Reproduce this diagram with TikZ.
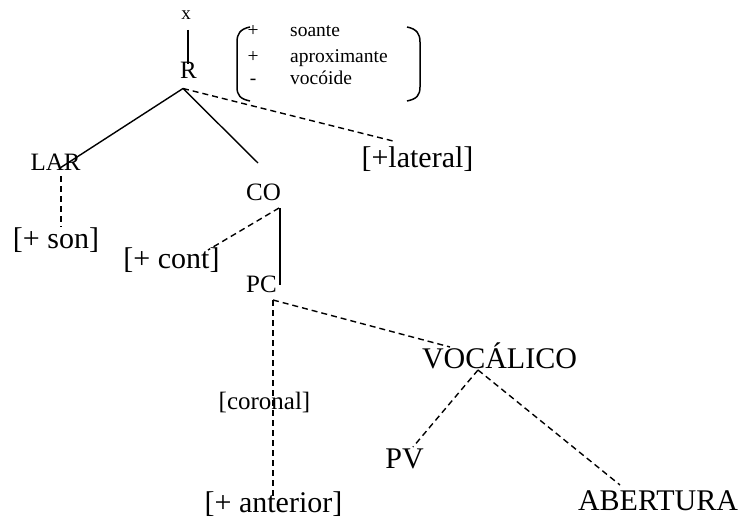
\documentclass[tikz,border=0pt]{standalone}
\usepackage{fontspec}
\setmainfont{Liberation Serif}
\begin{document}
\begin{tikzpicture}[x=1pt,y=-1pt,
  lbl/.style={inner sep=0pt,anchor=base},
  big/.style={lbl,font=\fontsize{30}{32}\selectfont},
  mid/.style={lbl,font=\fontsize{25}{27}\selectfont},
  sml/.style={lbl,font=\fontsize{19}{21}\selectfont},
  feat/.style={inner sep=0pt,font=\fontsize{19.5}{21}\selectfont},
  solidline/.style={line width=1.4pt},
  dashline/.style={line width=1.4pt,dash pattern=on 6pt off 4pt},
  paren/.style={line width=1.5pt}]
\useasboundingbox (0,0) rectangle (741,527);
% nodes
\node[sml] (x) at (186,20) {x};
\node[mid] (R) at (188.5,78.5) {R};
\node[mid] (LAR) at (55.5,170) {LAR};
\node[big] (lat) at (417.5,167) {[+lateral]};
\node[mid] (CO) at (263.5,200) {CO};
\node[big] (son) at (56,248) {[+ son]};
\node[big] (cont) at (171.5,268) {[+ cont]};
\node[mid] (PC) at (261.5,292) {PC};
\node[big] (VOC) at (499.5,368) {VOCÁLICO};
\node[mid] (cor) at (264.5,409) {[coronal]};
\node[big] (PV) at (404.5,468) {PV};
\node[big] (AB) at (658,510) {ABERTURA};
\node[big] (ant) at (273.5,512) {[+ anterior]};
% feature matrix
\node[feat,anchor=base] (s1) at (253,37) {+};
\node[feat,anchor=base] (s2) at (253,62.5) {+};
\node[feat,anchor=base] (s3) at (253,84.5) {-};
\node[feat,anchor=base west] (f1) at (290,37) {soante};
\node[feat,anchor=base west] (f2) at (290,62.5) {aproximante};
\node[feat,anchor=base west] (f3) at (290,84.5) {vocóide};
\draw[paren] (250,27) .. controls (240,29) and (237,34) .. (237,42) -- (237,87) .. controls (237,95) and (240,99) .. (250,101);
\draw[paren] (407,27) .. controls (417,29) and (420,34) .. (420,42) -- (420,87) .. controls (420,95) and (417,99) .. (407,101);
% connectors
\draw[solidline] ([shift={(2,10)}]x.base) -- ([shift={(-0.5,-14)}]R.base);
\draw[solidline] ([shift={(-5.5,10)}]R.base) -- ([shift={(4.5,-2)}]LAR.base);
\draw[solidline] ([shift={(-5.5,10)}]R.base) -- ([shift={(-5.5,-37)}]CO.base);
\draw[dashline] ([shift={(-5.5,10)}]R.base) -- ([shift={(-24.5,-26)}]lat.base);
\draw[dashline] ([shift={(5.5,6)}]LAR.base) -- ([shift={(5,-21)}]son.base);
\draw[dashline] ([shift={(15.5,8)}]CO.base) -- ([shift={(36.5,-18)}]cont.base);
\draw[solidline] ([shift={(16.5,8)}]CO.base) -- ([shift={(18.5,-7)}]PC.base);
\draw[dashline] ([shift={(11.5,8)}]PC.base) -- ([shift={(-49.5,-21)}]VOC.base);
\draw[dashline] ([shift={(11.5,8)}]PC.base) -- ([shift={(-0.5,-14)}]ant.base);
\draw[dashline] ([shift={(-21.5,2)}]VOC.base) -- ([shift={(8.5,-21)}]PV.base);
\draw[dashline] ([shift={(-21.5,2)}]VOC.base) -- ([shift={(-38,-25)}]AB.base);
\end{tikzpicture}
\end{document}
